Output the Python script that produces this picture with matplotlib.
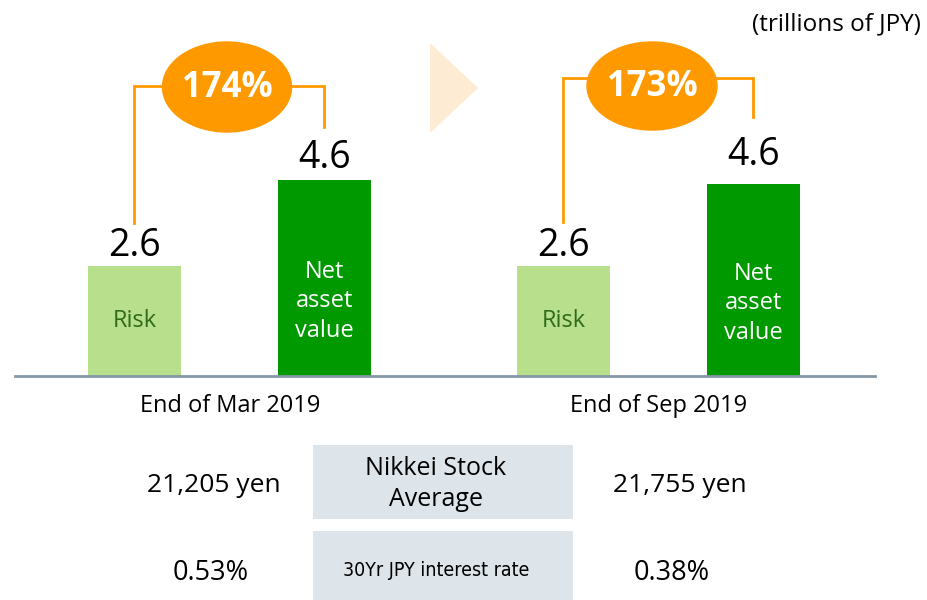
import matplotlib
matplotlib.use('Agg')
import matplotlib.pyplot as plt
from matplotlib.patches import Ellipse, Polygon, Rectangle

plt.rcParams['font.family'] = ['Open Sans', 'DejaVu Sans']

# data (trillions of JPY)
periods = ['End of Mar 2019', 'End of Sep 2019']
risk = [2.6, 2.6]
nav = [4.63, 4.54]
ratio_labels = ['174%', '173%']
value_labels_risk = ['2.6', '2.6']
value_labels_nav = ['4.6', '4.6']
nikkei = ['21,205 yen', '21,755 yen']
rate_30y = ['0.53%', '0.38%']

light_green = '#B8E08C'
dark_green = '#009900'
orange = '#FF9900'

W, H = 928, 600
fig = plt.figure(figsize=(W / 100, H / 100), dpi=100)

# bar axes: baseline at pixel y=376, 42.3 px per unit
base_px = 376
ppu = 42.3
ax = fig.add_axes([15 / W, (H - base_px) / H, 860 / W, base_px / H])
ax.set_xlim(-0.5, 1.505)
ax.set_ylim(0, base_px / ppu)

off = 0.2214
bw = 0.2168
xs = [0, 1]
risk_x = [x - off for x in xs]
nav_x = [x + off for x in xs]

ax.bar(risk_x, risk, width=bw, color=light_green, zorder=2)
ax.bar(nav_x, nav, width=bw, color=dark_green, zorder=2)

for x, v, lab in zip(risk_x, risk, value_labels_risk):
    ax.annotate(lab, (x, v), xytext=(0, 1), textcoords='offset points',
                ha='center', va='bottom', fontsize=27, color='black')
    ax.text(x, v / 2, 'Risk', ha='center', va='center', fontsize=17,
            color='#2F6B1A')
for i, (x, v, lab) in enumerate(zip(nav_x, nav, value_labels_nav)):
    ax.annotate(lab, (x, v), xytext=(0, 2 + 5 * i), textcoords='offset points',
                ha='center', va='bottom', fontsize=27, color='black')
    ax.text(x, v / 2 - 0.55, 'Net\nasset\nvalue', ha='center', va='center',
            fontsize=17, color='white', linespacing=1.3)

# brackets linking risk and NAV
bracket_top = [6.86, 7.05]
left_bottom = [3.62, 3.64]
right_bottom = [5.88, 6.12]
for i in range(2):
    ax.plot([risk_x[i], risk_x[i], nav_x[i], nav_x[i]],
            [left_bottom[i], bracket_top[i], bracket_top[i], right_bottom[i]],
            color=orange, lw=2, zorder=1, solid_joinstyle='miter')

for s in ['top', 'right', 'left']:
    ax.spines[s].set_visible(False)
ax.spines['bottom'].set_color('#8497A7')
ax.spines['bottom'].set_linewidth(2)
ax.set_xticks([])
ax.set_yticks([])
ax.patch.set_alpha(0)

# overlay in pixel coords
ov = fig.add_axes([0, 0, 1, 1], zorder=5)
ov.set_xlim(0, W)
ov.set_ylim(H, 0)
ov.axis('off')
ov.patch.set_alpha(0)

ell_c = [(227, 87), (652, 86)]
ell_wh = [(129, 90), (130, 88)]
for (cx, cy), (w, h), lab in zip(ell_c, ell_wh, ratio_labels):
    ov.add_patch(Ellipse((cx, cy), w, h, color=orange))
    ov.text(cx, cy + 1, lab, ha='center', va='center', fontsize=25,
            fontweight='bold', color='white')

ov.add_patch(Polygon([(430, 43), (478, 88), (430, 133)], closed=True,
                     color='#FDEBD3', lw=0))

ov.text(921, 24, '(trillions of JPY)', ha='right', va='center', fontsize=17.5)

for cx, lab in zip([230, 659], periods):
    ov.text(cx, 406, lab, ha='center', va='center', fontsize=17)

box_color = '#DEE5EA'
ov.add_patch(Rectangle((313, 445), 260, 74, color=box_color, lw=0))
ov.add_patch(Rectangle((313, 531), 260, 69, color=box_color, lw=0))
ov.text(436, 484, 'Nikkei Stock\nAverage', ha='center', va='center',
        fontsize=18, linespacing=1.35)
ov.text(436, 570, '30Yr JPY interest rate', ha='center', va='center',
        fontsize=14, family=['DejaVu Sans'], stretch='condensed')

for cx, lab in zip([214, 680], nikkei):
    ov.text(cx, 485, lab, ha='center', va='center', fontsize=19)
for cx, lab in zip([211, 672], rate_30y):
    ov.text(cx, 573, lab, ha='center', va='center', fontsize=19.5)

fig.savefig('out.png', dpi=100)
